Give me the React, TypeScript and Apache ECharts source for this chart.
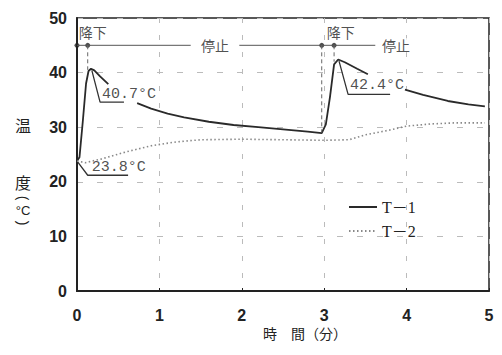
import React, { useEffect, useRef } from "react";
import * as echarts from "echarts";

const xTicks = [0, 1, 2, 3, 4, 5];
const yTicks = [0, 10, 20, 30, 40, 50];

// T-1 (solid) — '-' marks gaps where callout labels sit
const t1: (number | string)[][] = [
  [0, 23.8], [0.03, 24.5], [0.07, 31], [0.11, 38], [0.14, 40.3], [0.17, 40.7], [0.21, 40.4],
  [0.28, 39.3], [0.38, 37.9], ["-", "-"],
  [0.73, 34.4], [0.9, 33.4], [1.1, 32.5], [1.3, 31.8], [1.6, 31.0], [1.9, 30.4], [2.2, 30.0],
  [2.5, 29.6], [2.8, 29.2], [2.97, 28.9], [3.02, 30.5], [3.07, 35.5], [3.12, 41.5], [3.17, 42.4],
  [3.25, 41.9], [3.4, 40.7], [3.53, 39.7], ["-", "-"],
  [3.98, 36.9], [4.2, 35.9], [4.5, 34.8], [4.75, 34.2], [4.95, 33.8],
];

// T-2 (dotted)
const t2: number[][] = [
  [0, 23.8], [0.1, 23.5], [0.3, 24.2], [0.6, 25.5], [0.9, 26.6], [1.2, 27.3], [1.5, 27.7],
  [2.0, 27.8], [2.5, 27.7], [3.0, 27.6], [3.3, 27.7], [3.5, 28.6], [3.8, 29.5], [4.0, 30.2],
  [4.3, 30.6], [4.6, 30.8], [4.95, 30.8],
];

const legendNames = ["T－1", "T－2"];

const annotLevel = 45;
const markerXs = [0, 0.13, 2.97, 3.12];
const rangeLine: any[] = [
  [0, annotLevel], [0.13, annotLevel], [1.38, annotLevel], ["-", "-"],
  [1.97, annotLevel], [2.97, annotLevel], [3.12, annotLevel], [3.62, annotLevel],
];
const dropLines: any[] = [
  [0.13, annotLevel], [0.13, 40.5], ["-", "-"],
  [2.97, annotLevel], [2.97, 29], ["-", "-"],
  [3.12, annotLevel], [3.12, 42],
];
const leaderLines: any[] = [
  [0.18, 40.4], [0.28, 34.6], [0.57, 34.6], ["-", "-"],
  [0.01, 23.6], [0.13, 21.2], [0.62, 21.2], ["-", "-"],
  [3.18, 42.1], [3.29, 36.0], [3.8, 36.0],
];
const callouts = [
  { name: "40.7°C", value: [0.28, 34.6], offset: [2, -8] },
  { name: "23.8°C", value: [0.13, 21.2], offset: [4, -8] },
  { name: "42.4°C", value: [3.29, 36.0], offset: [2, -9] },
];
const phaseLabels = [
  { name: "降下", value: [0.19, annotLevel], pos: "top" },
  { name: "停止", value: [1.675, annotLevel], pos: "inside" },
  { name: "降下", value: [3.2, annotLevel], pos: "top" },
  { name: "停止", value: [3.87, annotLevel], pos: "inside" },
];

const INK = "#222";

export default function App() {
  const ref = useRef<HTMLDivElement>(null);
  useEffect(() => {
    if (!ref.current) return;
    const chart = echarts.init(ref.current, undefined, { renderer: "svg" });
    chart.setOption({
      animation: false,
      backgroundColor: "#fff",
      grid: {
        left: 77, top: 18, right: 13, bottom: 64,
        show: true, borderColor: INK, borderWidth: 1.5,
      },
      legend: {
        data: legendNames,
        orient: "vertical",
        left: 343, top: 194,
        itemWidth: 28, itemHeight: 14, itemGap: 8,
        itemStyle: { opacity: 0 },
        textStyle: { fontFamily: "Liberation Serif, 'Noto Sans CJK JP'", fontSize: 16, color: INK },
      },
      xAxis: {
        type: "value", min: 0, max: 5, interval: 1,
        axisLine: { lineStyle: { color: INK, width: 2 } },
        axisTick: { show: true, inside: true, length: 3, lineStyle: { color: INK } },
        axisLabel: {
          margin: 16, color: INK, fontFamily: "Liberation Sans", fontWeight: "bold", fontSize: 16,
          formatter: (v: number) => (xTicks.includes(v) ? String(v) : ""),
        },
        splitLine: { show: true, lineStyle: { color: "#bbb", type: [5, 12], width: 1 } },
      },
      yAxis: {
        type: "value", min: 0, max: 50, interval: 10,
        axisLine: { show: true, lineStyle: { color: INK, width: 2 } },
        axisTick: { show: false },
        axisLabel: {
          margin: 10, color: INK, fontFamily: "Liberation Sans", fontWeight: "bold", fontSize: 16,
          formatter: (v: number) => (yTicks.includes(v) ? String(v) : ""),
        },
        splitLine: { show: true, lineStyle: { color: "#bbb", type: [6, 14], width: 1 } },
      },
      series: [
        {
          name: legendNames[0], type: "line", data: t1, showSymbol: false, symbol: "none",
          connectNulls: false,
          lineStyle: { color: "#2a2a2a", width: 1.8 }, itemStyle: { color: "#2a2a2a" },
        },
        {
          name: legendNames[1], type: "line", data: t2, showSymbol: false, symbol: "none",
          lineStyle: { color: "#888", width: 1.6, type: [1.5, 2.5] }, itemStyle: { color: "#888" },
        },
        {
          name: "range", type: "line", data: rangeLine, symbol: "none", silent: true,
          lineStyle: { color: "#555", width: 1 },
        },
        {
          name: "markers", type: "scatter", silent: true, symbolSize: 5,
          data: markerXs.map((x) => [x, annotLevel]),
          itemStyle: { color: INK },
        },
        {
          name: "drops", type: "line", data: dropLines, symbol: "none", silent: true,
          lineStyle: { color: "#666", width: 1, type: [4, 3] },
        },
        {
          name: "leaders", type: "line", data: leaderLines, symbol: "none", silent: true,
          lineStyle: { color: "#333", width: 1.3 },
        },
        {
          name: "callouts", type: "scatter", silent: true, symbolSize: 0,
          data: callouts.map((c) => ({
            name: c.name, value: c.value,
            label: {
              show: true, position: "right", distance: 0, offset: c.offset,
              formatter: "{b}", color: INK, fontFamily: "Liberation Mono", fontSize: 15,
            },
          })),
        },
        {
          name: "phases", type: "scatter", silent: true, symbolSize: 0,
          data: phaseLabels.map((p) => ({
            name: p.name, value: p.value,
            label: {
              show: true, position: p.pos, distance: 6, formatter: "{b}",
              color: INK, fontFamily: "Noto Sans CJK JP", fontSize: 14,
              backgroundColor: p.pos === "inside" ? "#fff" : "transparent",
              padding: p.pos === "inside" ? [0, 2] : 0,
            },
          })),
        },
      ],
      graphic: [
        { type: "text", left: 15, top: 117, style: { text: "温", font: "16px 'Noto Sans CJK JP'", fill: INK } },
        { type: "text", left: 15, top: 174, style: { text: "度", font: "16px 'Noto Sans CJK JP'", fill: INK } },
        {
          type: "text", x: 23, y: 198, rotation: -Math.PI / 2,
          style: { text: "(", font: "14px 'Liberation Sans'", fill: INK, align: "center", verticalAlign: "middle" },
        },
        {
          type: "text", x: 23, y: 210,
          style: { text: "°C", font: "13px 'Liberation Sans'", fill: INK, align: "center", verticalAlign: "middle" },
        },
        {
          type: "text", x: 23, y: 223, rotation: -Math.PI / 2,
          style: { text: ")", font: "14px 'Liberation Sans'", fill: INK, align: "center", verticalAlign: "middle" },
        },
        { type: "text", left: 263, top: 326, style: { text: "時　間（分）", font: "14px 'Noto Sans CJK JP'", fill: INK } },
      ],
    });
    return () => chart.dispose();
  }, []);
  return <div ref={ref} style={{ width: 502, height: 355, position: "absolute", left: 0, top: 0 }} />;
}
